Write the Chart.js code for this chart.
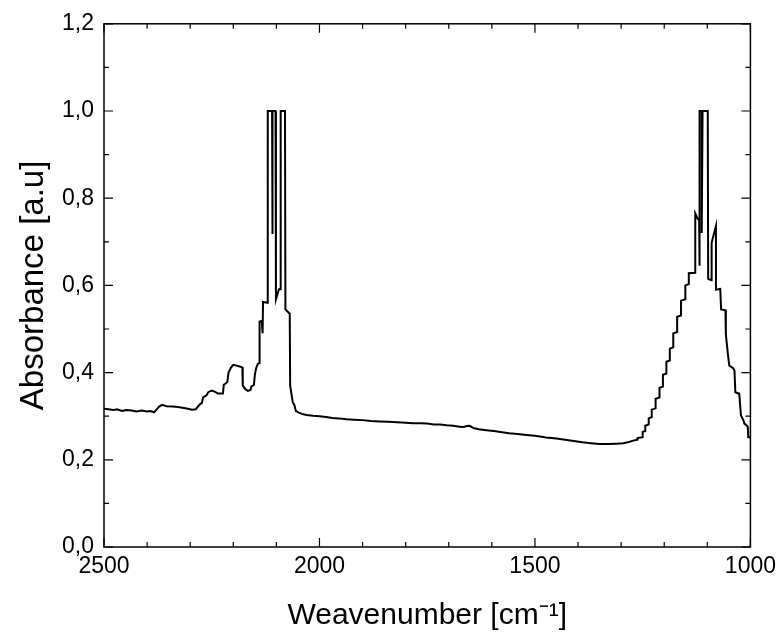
<!DOCTYPE html>
<html>
<head>
<meta charset="utf-8">
<script src="https://cdn.jsdelivr.net/npm/chart.js@4.4.1/dist/chart.umd.min.js"></script>
<style>
  html, body { margin: 0; padding: 0; background: #fff; }
  #wrap { width: 782px; height: 644px; position: relative; }
</style>
</head>
<body>
<div id="wrap"><canvas id="c" width="782" height="644"></canvas></div>
<script>
// Wavenumber (cm^-1) and absorbance values
const wavenumber = [
  2500,2490,2478,2470,2458,2448,2436,2425,2412,2400,2392,2384,2378,2372,2365,2355,2340,2328,2315,2305,
  2296,2287,2282,2277,2273,2270,2262,2258,2250,2242,2236,2224,2222,2214,2211,2205,2200,2192,2185,2179,
  2178,2172,2166,2160,2158,2152,2150,2147,2143,2140,2139,2134,2132,2131,2121,2120,2110,2110,2108,2102,
  2101,2094,2091,2090,2080,2079,2069,2068,2062,2058,2055,2048,2040,2030,2015,2000,1985,1970,1955,1937,
  1920,1900,1880,1860,1840,1820,1800,1783,1765,1750,1735,1720,1705,1690,1675,1667,1660,1652,1643,1630,
  1613,1595,1580,1560,1540,1520,1500,1474,1450,1430,1410,1390,1370,1350,1330,1310,1295,1282,1272,1262,
  1262,1250,1250,1244,1244,1236,1236,1229,1229,1220,1220,1211,1211,1203,1203,1195,1195,1187,1187,1179,
  1179,1170,1170,1161,1161,1151,1151,1143,1143,1128,1128,1122,1119,1118,1118,1113,1113,1111,1099,1098,
  1091,1090,1080,1080,1070,1068,1058,1057,1052,1049,1040,1037,1035,1028,1026,1022,1016,1014,1008,1006,
  1005,1000
];
const absorbance = [
  0.317,0.316,0.314,0.316,0.312,0.314,0.313,0.311,0.313,0.311,0.312,0.309,0.315,0.322,0.326,0.323,0.322,0.321,0.319,0.317,
  0.315,0.316,0.322,0.328,0.330,0.343,0.348,0.355,0.359,0.356,0.352,0.352,0.372,0.378,0.400,0.412,0.418,0.416,0.414,0.412,
  0.370,0.362,0.358,0.360,0.368,0.372,0.395,0.410,0.420,0.422,0.517,0.519,0.490,0.562,0.560,1.000,1.000,0.718,1.000,1.000,
  0.568,0.591,0.591,1.000,1.000,0.545,0.535,0.370,0.332,0.325,0.312,0.308,0.305,0.303,0.301,0.300,0.298,0.296,0.295,0.293,
  0.292,0.291,0.289,0.288,0.287,0.286,0.285,0.284,0.284,0.283,0.281,0.281,0.279,0.278,0.276,0.275,0.277,0.278,0.273,0.270,
  0.268,0.266,0.264,0.261,0.259,0.257,0.255,0.251,0.249,0.246,0.243,0.240,0.238,0.236,0.236,0.237,0.238,0.241,0.244,0.246,
  0.250,0.252,0.264,0.266,0.278,0.281,0.295,0.298,0.315,0.318,0.340,0.343,0.365,0.368,0.395,0.398,0.425,0.428,0.455,0.458,
  0.490,0.493,0.528,0.531,0.565,0.568,0.600,0.603,0.628,0.629,0.765,0.752,0.750,0.645,1.000,1.000,0.720,1.000,1.000,0.615,
  0.612,0.698,0.736,0.590,0.592,0.545,0.543,0.488,0.440,0.416,0.410,0.405,0.355,0.352,0.352,0.302,0.290,0.283,0.278,0.275,
  0.252,0.252
];
const xTickValues = [2500, 2000, 1500, 1000];
const yTickValues = [0, 0.2, 0.4, 0.6, 0.8, 1.0, 1.2];
const xTitle = 'Weavenumber [cm\u207B\u00B9]';
const yTitle = 'Absorbance [a.u]';

const points = wavenumber.map((w, i) => ({ x: w, y: absorbance[i] }));
const FONT = "'Liberation Sans', Arial, Helvetica, sans-serif";

// Frame around the plot area plus inward major/minor ticks on all four sides
const framePlugin = {
  id: 'frame',
  afterDraw(chart) {
    const { ctx, chartArea: a, scales: { x, y } } = chart;
    ctx.save();
    ctx.strokeStyle = '#000';
    ctx.lineWidth = 1.5;
    ctx.strokeRect(a.left, a.top, a.right - a.left, a.bottom - a.top);
    ctx.lineWidth = 1.2;
    const majorLen = 9, minorLen = 5;
    // x ticks: majors from the axis ticks, minors at fifths between them
    const xt = x.ticks.map(t => t.value).sort((p, q) => p - q);
    for (let i = 0; i < xt.length; i++) {
      const px = x.getPixelForValue(xt[i]);
      ctx.beginPath();
      ctx.moveTo(px, a.bottom); ctx.lineTo(px, a.bottom - majorLen);
      ctx.moveTo(px, a.top); ctx.lineTo(px, a.top + majorLen);
      ctx.stroke();
      if (i < xt.length - 1) {
        const step = (xt[i + 1] - xt[i]) / 5;
        for (let k = 1; k < 5; k++) {
          const mx = x.getPixelForValue(xt[i] + k * step);
          ctx.beginPath();
          ctx.moveTo(mx, a.bottom); ctx.lineTo(mx, a.bottom - minorLen);
          ctx.moveTo(mx, a.top); ctx.lineTo(mx, a.top + minorLen);
          ctx.stroke();
        }
      }
    }
    const yt = y.ticks.map(t => t.value).sort((p, q) => p - q);
    for (let i = 0; i < yt.length; i++) {
      const py = y.getPixelForValue(yt[i]);
      ctx.beginPath();
      ctx.moveTo(a.left, py); ctx.lineTo(a.left + majorLen, py);
      ctx.moveTo(a.right, py); ctx.lineTo(a.right - majorLen, py);
      ctx.stroke();
      if (i < yt.length - 1) {
        const my = y.getPixelForValue((yt[i] + yt[i + 1]) / 2);
        ctx.beginPath();
        ctx.moveTo(a.left, my); ctx.lineTo(a.left + minorLen, my);
        ctx.moveTo(a.right, my); ctx.lineTo(a.right - minorLen, my);
        ctx.stroke();
      }
    }
    ctx.restore();
  }
};

new Chart(document.getElementById('c'), {
  type: 'line',
  data: {
    datasets: [{
      data: points,
      borderColor: '#000',
      borderWidth: 2,
      pointRadius: 0,
      tension: 0,
      fill: false
    }]
  },
  options: {
    responsive: false,
    animation: false,
    devicePixelRatio: 1,
    layout: { padding: { left: 0, top: 21, right: 30, bottom: 0 } },
    plugins: { legend: { display: false }, tooltip: { enabled: false } },
    scales: {
      x: {
        type: 'linear',
        reverse: true,
        min: 1000,
        max: 2500,
        afterBuildTicks(scale) { scale.ticks = xTickValues.map(v => ({ value: v })); },
        afterFit(scale) { scale.height = 97; },
        grid: { display: false, drawTicks: false },
        border: { display: false },
        ticks: {
          color: '#000',
          font: { family: FONT, size: 23 },
          padding: 6,
          maxRotation: 0,
          autoSkip: false,
          callback: v => String(v)
        },
        title: {
          display: true,
          text: xTitle,
          color: '#000',
          font: { family: FONT, size: 30 },
          padding: { top: 0, bottom: 10 }
        }
      },
      y: {
        min: 0,
        max: 1.2,
        afterBuildTicks(scale) { scale.ticks = yTickValues.map(v => ({ value: v })); },
        afterFit(scale) { scale.width = 104; },
        grid: { display: false, drawTicks: false },
        border: { display: false },
        ticks: {
          color: '#000',
          font: { family: FONT, size: 23 },
          padding: 10,
          autoSkip: false,
          callback: v => Number(v).toFixed(1).replace('.', ',')
        },
        title: {
          display: true,
          text: yTitle,
          color: '#000',
          font: { family: FONT, size: 33 },
          padding: { top: 14, bottom: 0 }
        }
      }
    }
  },
  plugins: [framePlugin]
});
</script>
</body>
</html>
